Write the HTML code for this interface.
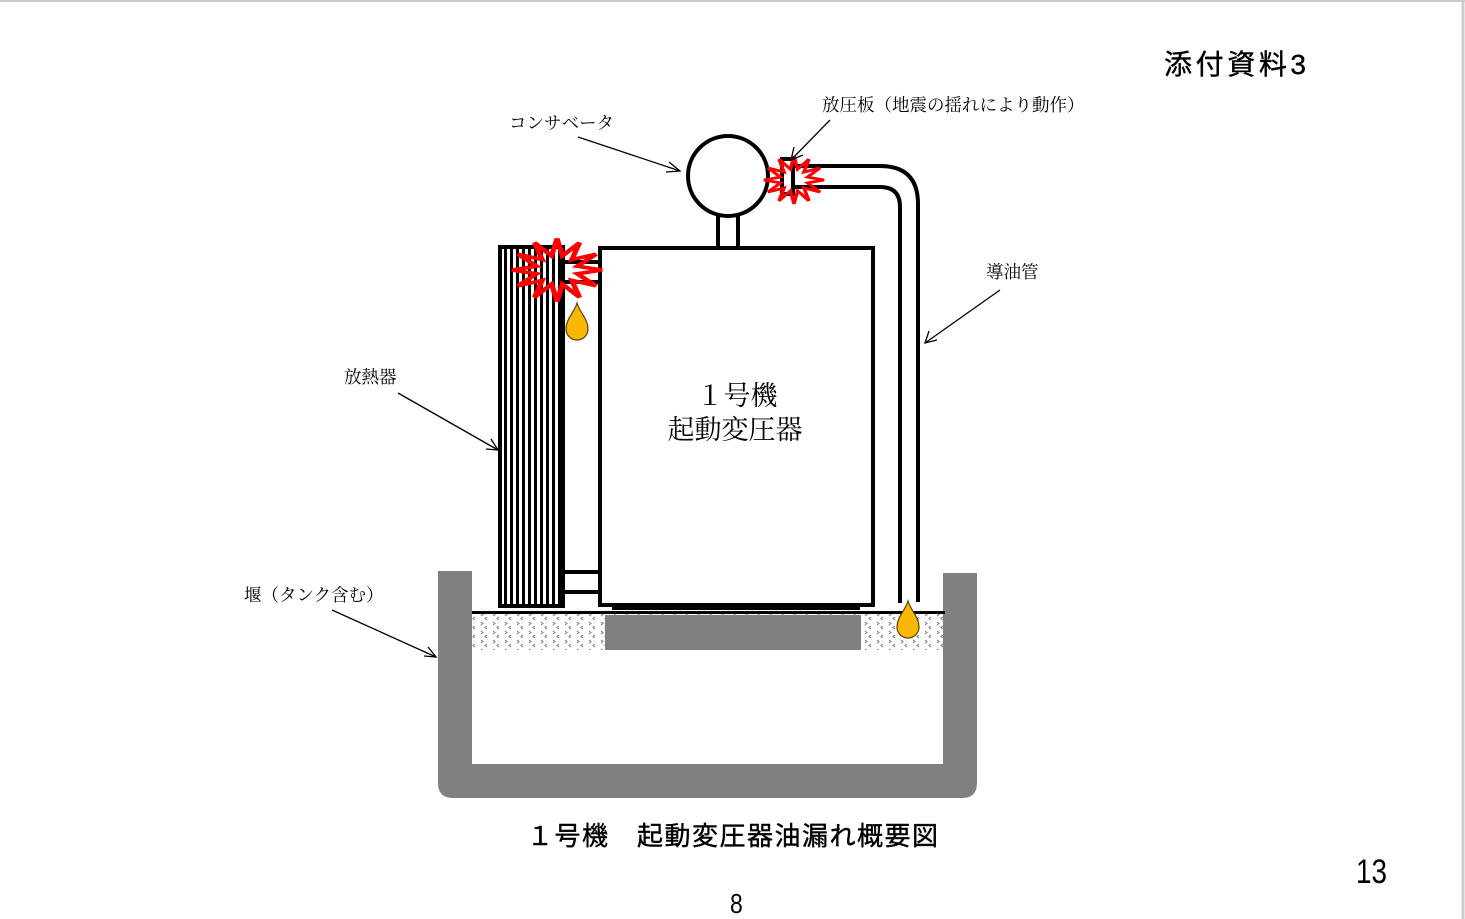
<!DOCTYPE html>
<html><head><meta charset="utf-8"><style>
html,body{margin:0;padding:0;background:#fff;}
body{width:1465px;height:919px;overflow:hidden;position:relative;}
svg{position:absolute;left:0;top:0;}
text{font-family:"Liberation Serif","Noto Serif CJK SC","Noto Sans CJK JP",serif;fill:#000;}
.g{font-family:"Liberation Sans","Noto Sans CJK JP",sans-serif;}
</style></head><body>
<svg width="1465" height="919" viewBox="0 0 1465 919">
<defs>
<pattern id="grav" width="12" height="9" patternUnits="userSpaceOnUse">
<rect width="12" height="9" fill="#fff"/>
<path d="M1 1 l2 1.5 l-2 1.5 M7 5 l-2 1.5 l2 1.5" stroke="#777" stroke-width="1" fill="none"/>
</pattern>
<pattern id="fins" width="6" height="10" patternUnits="userSpaceOnUse">
<rect width="6" height="10" fill="#fff"/><rect width="3" height="10" fill="#000"/>
</pattern>
<polygon id="burst" points="30,0 13.5,3.6 26,15 9.9,9.9 15,26 3.6,13.5 0,30 -3.6,13.5 -15,26 -9.9,9.9 -26,15 -13.5,3.6 -30,0 -13.5,-3.6 -26,-15 -9.9,-9.9 -15,-26 -3.6,-13.5 0,-30 3.6,-13.5 15,-26 9.9,-9.9 26,-15 13.5,-3.6" fill="none" stroke="#ff0000" stroke-width="3.5" stroke-linejoin="miter"/>
<path id="drop" d="M0,-22 C3,-12 11,-6 11,4 A11,11 0 0 1 -11,4 C-11,-6 -3,-12 0,-22 Z" fill="#f8b800" stroke="#5a4000" stroke-width="1.2"/>
</defs>
<line x1="0" y1="1" x2="1465" y2="1" stroke="#ccc" stroke-width="2"/>
<line x1="1463" y1="0" x2="1463" y2="919" stroke="#ccc" stroke-width="3"/>

<path d="M438 571 H472 V764 H943 V573 H977 V783 Q977 798 962 798 H453 Q438 798 438 783 Z" fill="#808080"/>
<rect x="472" y="614" width="471" height="36" fill="url(#grav)"/>
<rect x="605" y="615" width="256" height="35" fill="#808080"/>
<line x1="472" y1="612.5" x2="945" y2="612.5" stroke="#000" stroke-width="3"/>

<rect x="500" y="247" width="63" height="359" fill="url(#fins)" stroke="#000" stroke-width="4"/>
<rect x="563" y="262" width="37" height="20" fill="#fff" stroke="#000" stroke-width="4"/>
<rect x="563" y="572" width="37" height="20" fill="#fff" stroke="#000" stroke-width="4"/>

<rect x="600" y="248" width="273" height="357" fill="#fff" stroke="#000" stroke-width="4"/>
<line x1="612" y1="608.5" x2="860" y2="608.5" stroke="#000" stroke-width="3"/>
<rect x="718" y="214" width="20" height="34" fill="#fff" stroke="#000" stroke-width="4"/>
<circle cx="728" cy="176" r="40" fill="#fff" stroke="#000" stroke-width="4"/>

<path d="M790 166 H880 Q918 166 918 204 V602" fill="none" stroke="#000" stroke-width="4"/>
<path d="M793 187 H880 Q900 187 900 207 V603" fill="none" stroke="#000" stroke-width="4"/>
<rect x="782" y="159" width="11" height="35" fill="#fff" stroke="#000" stroke-width="4"/>

<use href="#burst" transform="translate(794,180) scale(1,0.8)"/>
<use href="#burst" transform="translate(557,270) scale(1.5,1.05)"/>
<use href="#drop" transform="translate(577,325)"/>
<use href="#drop" transform="translate(908,623)"/>

<text x="737" y="405" font-size="27" text-anchor="middle">１号機</text>
<text x="735" y="439" font-size="27" text-anchor="middle">起動変圧器</text>

<g stroke="#000" stroke-width="1.3" fill="none">
<line x1="578" y1="137" x2="680" y2="171"/><path d="M669 162 L680 171 L666 172"/>
<line x1="830" y1="120" x2="791" y2="160"/><path d="M794 147 L791 160 L803 155"/>
<line x1="1000" y1="290" x2="925" y2="343"/><path d="M929 331 L925 343 L937 340"/>
<line x1="398" y1="393" x2="498" y2="450"/><path d="M486 449 L498 450 L491 439"/>
<line x1="332" y1="610" x2="436" y2="657"/><path d="M424 656 L436 657 L428 647"/>
</g>
<text x="509" y="129" font-size="17.5">コンサベータ</text>
<text x="822" y="111" font-size="17.5">放圧板（地震の揺れにより動作）</text>
<text x="986" y="278" font-size="17.5">導油管</text>
<text x="344" y="383" font-size="17.5">放熱器</text>
<text x="244" y="601" font-size="17.5">堰（タンク含む）</text>

<text class="g" x="1164" y="74" font-size="28" textLength="142" stroke="#000" stroke-width="0.4">添付資料3</text>
<text class="g" x="527" y="845" font-size="26" textLength="411" stroke="#000" stroke-width="0.4">１号機　起動変圧器油漏れ概要図</text>
<text class="g" x="1356" y="883" font-size="34" transform="translate(1356 0) scale(0.82 1) translate(-1356 0)">13</text>
<text class="g" x="730" y="913" font-size="28" transform="translate(730 0) scale(0.82 1) translate(-730 0)">8</text>
</svg>
</body></html>
